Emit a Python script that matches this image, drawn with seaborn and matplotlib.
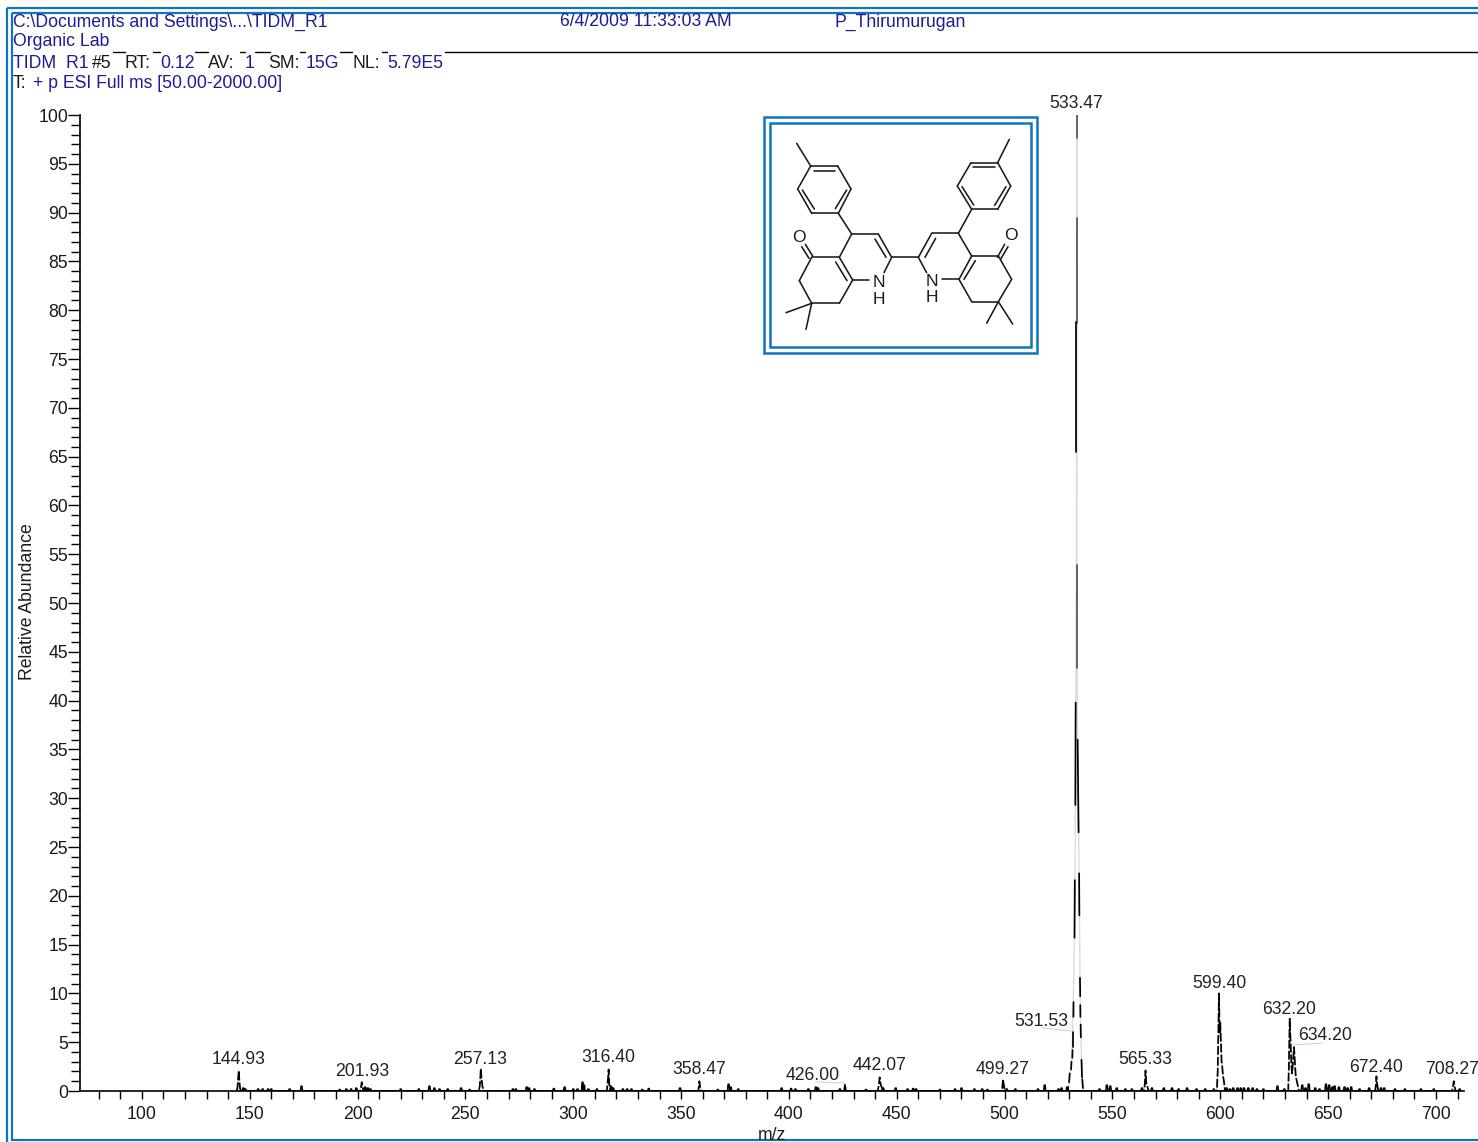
#!/usr/bin/env python3
import pandas as pd
import matplotlib
matplotlib.use('Agg')
import matplotlib.pyplot as plt
from matplotlib.patches import Rectangle
import seaborn as sns

# profile of the labelled peaks
profile_mz = [143.9, 144.3, 144.6, 144.93, 145.2, 145.5, 145.8,
              201.2, 201.6, 201.93, 202.3, 202.7,
              256.2, 256.6, 256.9, 257.13, 257.5, 257.9, 258.4,
              315.6, 315.9, 316.1, 316.4, 316.7, 317.1,
              358.0, 358.47, 358.9, 359.4,
              425.6, 426.0, 426.4,
              441.2, 441.6, 442.07, 442.5, 443.0, 443.6,
              498.8, 499.27, 499.7, 500.2,
              564.7, 565.0, 565.33, 565.7, 566.1, 566.8,
              598.4, 598.8, 599.1, 599.4, 599.7, 600.0, 600.3, 600.6, 600.9,
              601.3, 601.7, 602.2,
              631.5, 631.8, 632.0, 632.2, 632.6, 633.0, 633.3, 633.7, 634.2,
              634.7, 635.0, 635.5, 636.0, 636.5,
              671.8, 672.1, 672.4, 672.8, 673.3,
              707.5, 707.9, 708.27, 708.7, 709.2]
profile_int = [0, 0.3, 1.2, 2.1, 1.0, 0.3, 0,
               0, 0.4, 0.9, 0.5, 0,
               0, 0.4, 1.2, 2.3, 1.2, 0.5, 0,
               0, 0.8, 1.2, 2.2, 0.7, 0,
               0, 1.0, 0.3, 0,
               0, 0.7, 0,
               0, 0.5, 1.4, 0.7, 0.4, 0,
               0, 1.2, 0.5, 0,
               0, 0.7, 2.1, 0.8, 0.5, 0,
               0, 2.0, 6.0, 10.0, 6.0, 7.0, 5.0, 3.0, 2.5,
               1.5, 1.0, 0,
               0, 2.5, 5.0, 7.4, 5.0, 2.5, 1.8, 3.0, 4.5,
               2.5, 1.5, 1.0, 0.5, 0,
               0, 0.5, 1.5, 0.6, 0,
               0, 0.5, 1.0, 0.4, 0]

# base peak, pale outline
base_mz = [529.4, 530.2, 531.0, 531.53, 532.4, 532.8, 533.0, 533.3, 533.47,
           533.5, 533.7, 534.3, 534.7, 535.1, 535.4, 535.9, 536.3, 536.8]
base_int = [0, 1.4, 2.6, 6.0, 15.7, 29.0, 40.0, 55.0, 100.0,
            55.0, 40.0, 26.5, 18.0, 8.0, 5.5, 1.4, 1.0, 0]

# dark pieces of the base peak: top and bottom end of each piece
piece_mz_top = [533.47, 533.45, 533.2, 533.4, 532.95, 532.55, 531.95, 531.5, 531.5, 531.0, 530.2, 529.5,
                533.85, 534.55, 534.95, 535.1, 535.25, 535.65, 536.0]
piece_int_top = [100.0, 89.4, 78.8, 53.9, 39.8, 21.6, 9.1, 6.0, 4.2, 3.0, 1.8, 0.4,
                 36.0, 22.3, 11.6, 8.8, 6.8, 3.2, 1.2]
piece_mz_bot = [533.47, 533.45, 533.2, 533.4, 532.8, 532.4, 531.9, 531.5, 531.4, 530.8, 529.9, 529.4,
                534.3, 534.65, 535.05, 535.15, 535.35, 535.9, 536.3]
piece_int_bot = [97.6, 78.7, 65.5, 43.3, 29.3, 15.7, 7.6, 4.5, 3.4, 2.2, 0.9, 0.1,
                 26.5, 18.0, 9.7, 7.6, 5.5, 1.4, 0.3]
piece_black = [False, False, True, False, True, True, True, True, True, True, True, True,
               True, True, True, True, True, True, True]

# the small unlabelled bumps along the baseline
noise_mz = [147, 148, 153.9, 156, 158.5, 160, 168.5, 174, 191.7, 194.8, 197,
            199.4, 203.5, 204.8, 206, 220, 228.4, 233.3, 235.6, 238, 241.8,
            248, 251.9, 272, 273.4, 278.4, 279.5, 282, 291, 296, 300, 302,
            304.3, 305, 307, 311, 317.5, 318.5, 323, 325, 327, 332, 335,
            349.5, 367, 372, 373, 376.5, 396.6, 401, 403, 409, 412.5, 413.5,
            423.6, 435.7, 443.7, 449.5, 455, 457.6, 459, 470, 477, 480, 486,
            489.6, 492, 501, 505, 515.5, 518.6, 525, 526.4, 529, 544, 547.4,
            549, 552, 556, 559, 563.7, 568.3, 573.8, 577.6, 580.7, 584.6, 589,
            593, 597, 603, 604.5, 606, 608, 609.5, 611, 613, 615, 617, 620, 626.5, 629.7,
            638, 639.5, 641, 644, 646, 649, 650.5, 652, 653, 655, 657.6, 659, 660.7, 664.6, 669,
            674.5, 676, 681, 685.6, 693, 699, 711]
noise_int = [0.3, 0.2, 0.2, 0.2, 0.2, 0.2, 0.2, 0.5, 0.15, 0.2, 0.2,
             0.3, 0.4, 0.3, 0.2, 0.2, 0.2, 0.5, 0.3, 0.2, 0.2,
             0.3, 0.15, 0.2, 0.2, 0.4, 0.3, 0.2, 0.25, 0.4, 0.2, 0.2,
             0.9, 0.6, 0.2, 0.2, 0.5, 0.3, 0.2, 0.2, 0.2, 0.15, 0.25,
             0.3, 0.15, 0.7, 0.4, 0.2, 0.3, 0.25, 0.2, 0.2, 0.4, 0.3,
             0.2, 0.15, 0.3, 0.3, 0.2, 0.25, 0.2, 0.15, 0.2, 0.3, 0.2,
             0.2, 0.15, 0.2, 0.2, 0.2, 0.6, 0.2, 0.3, 0.4, 0.2, 0.6,
             0.5, 0.3, 0.2, 0.2, 0.3, 0.3, 0.3, 0.3, 0.2, 0.3, 0.2,
             0.2, 0.2, 0.3, 0.2, 0.3, 0.3, 0.3, 0.3, 0.3, 0.3, 0.2, 0.2, 0.5, 0.2,
             0.6, 0.3, 0.7, 0.3, 0.2, 0.7, 0.6, 0.4, 0.5, 0.4, 0.4, 0.3, 0.4, 0.2, 0.3,
             0.3, 0.3, 0.2, 0.2, 0.2, 0.2, 0.2]

peak_labels = ["144.93", "201.93", "257.13", "316.40", "358.47", "426.00",
               "442.07", "499.27", "531.53", "533.47", "565.33", "599.40",
               "632.20", "634.20", "672.40", "708.27"]
label_px = [(239, 1059), (362, 1071), (480, 1059), (608, 1058), (699, 1070),
            (813, 1075), (880, 1066), (1003, 1070), (1041, 1021), (1076, 104),
            (1145, 1060), (1219, 983), (1289, 1009), (1325, 1036), (1376, 1067),
            (1452, 1069)]
leaders_px = [((1042, 1028), (1072, 1031)), ((1293, 1045), (1322, 1043)),
              ((815, 1082), (845, 1083))]

header = [(13, 22, "C:\\Documents and Settings\\...\\TIDM_R1", "blue"),
          (560, 22, "6/4/2009 11:33:03 AM", "blue"),
          (834, 22, "P_Thirumurugan", "blue"),
          (13, 42, "Organic Lab", "blue"),
          (13, 63, "TIDM  R1", "blue"), (92, 63, "#5", "black"),
          (125, 63, "RT:", "black"), (160, 63, "0.12", "blue"),
          (208, 63, "AV:", "black"), (245, 63, "1", "blue"),
          (268, 63, "SM:", "black"), (306, 63, "15G", "blue"),
          (353, 63, "NL:", "black"), (387, 63, "5.79E5", "blue"),
          (13, 84, "T:", "black"), (33, 84, "+ p ESI Full ms [50.00-2000.00]", "blue")]
overline_px = [(113, 125), (153, 160), (195, 208), (240, 245), (255, 270),
               (300, 305), (340, 352), (382, 387), (445, 1478)]

# structure inset, coordinates measured in a 855x750 crop of the picture
bonds = [
    ((110, 100), (152, 168)), ((152, 168), (233, 168)), ((233, 168), (273, 237)),
    ((273, 237), (235, 310)), ((235, 310), (155, 310)), ((155, 310), (113, 237)),
    ((113, 237), (152, 168)), ((163, 183), (225, 183)), ((260, 240), (226, 296)),
    ((127, 240), (163, 297)), ((235, 310), (275, 372)), ((275, 372), (355, 372)),
    ((355, 372), (395, 442)), ((345, 387), (378, 442)), ((275, 372), (238, 442)),
    ((238, 442), (155, 442)), ((238, 442), (278, 510)), ((227, 456), (261, 512)),
    ((278, 510), (328, 510)), ((395, 442), (372, 488)), ((278, 510), (238, 580)),
    ((238, 580), (155, 580)), ((155, 580), (118, 512)), ((118, 512), (155, 442)),
    ((158, 438), (136, 403)), ((147, 445), (125, 410)), ((155, 580), (78, 608)),
    ((155, 580), (138, 658)), ((395, 442), (475, 442)),
    ((475, 442), (515, 370)), ((495, 442), (527, 385)), ((515, 370), (595, 370)),
    ((595, 370), (635, 298)), ((635, 298), (713, 298)), ((713, 298), (752, 228)),
    ((752, 228), (713, 158)), ((713, 158), (633, 158)), ((633, 158), (592, 228)),
    ((592, 228), (635, 298)), ((713, 158), (748, 88)), ((640, 172), (705, 172)),
    ((738, 230), (704, 286)), ((606, 230), (641, 285)), ((595, 370), (635, 438)),
    ((635, 438), (715, 438)), ((712, 442), (734, 403)), ((722, 447), (744, 410)),
    ((715, 438), (755, 508)), ((755, 508), (715, 575)), ((715, 575), (635, 575)),
    ((635, 575), (597, 508)), ((597, 508), (635, 438)), ((612, 508), (646, 452)),
    ((597, 508), (545, 508)), ((475, 442), (500, 488)), ((715, 575), (680, 640)),
    ((715, 575), (758, 642)),
]
atoms = [(117, 381, "O"), (358, 518, "N"), (358, 568, "H"), (752, 376, "O"),
         (515, 514, "N"), (515, 564, "H")]

BLUE = "#1c1c96"
FRAME = "#0f75bd"
TEXT = "#1a1a1a"
FS = 12.7

sns.set_theme(style="ticks")
plt.rcParams['font.family'] = ['Liberation Sans', 'DejaVu Sans']

fig = plt.figure(figsize=(14.78, 11.42), dpi=100)
W, H = 1478.0, 1142.0
ax = fig.add_axes([80 / W, 1 - 1091 / H, (1464 - 80) / W, (1091 - 115) / H])

spectrum = pd.DataFrame({"mz": profile_mz, "abundance": profile_int})
base = pd.DataFrame({"mz": base_mz, "abundance": base_int})
for frame in (spectrum, base):
    sns.lineplot(data=frame, x="mz", y="abundance", ax=ax, estimator=None, sort=False,
                 color="#dcdcdc", linewidth=1.0)
sns.lineplot(data=spectrum, x="mz", y="abundance", ax=ax, estimator=None, sort=False,
             color="black", linewidth=1.25, linestyle=(0, (5, 1.3)))

# the base peak comes out in broken dark pieces
for i in range(len(piece_black)):
    piece = pd.DataFrame({"mz": [piece_mz_top[i], piece_mz_bot[i]],
                          "abundance": [piece_int_top[i], piece_int_bot[i]]})
    sns.lineplot(data=piece, x="mz", y="abundance", ax=ax, estimator=None, sort=False,
                 color="black" if piece_black[i] else "#555555", linewidth=1.25)

# baseline bumps as narrow triangles
noise_x, noise_y = [], []
for m, v in zip(noise_mz, noise_int):
    noise_x += [m - 0.5, m - 0.2, m + 0.2, m + 0.5]
    noise_y += [0, v, v, 0]
noise = pd.DataFrame({"mz": noise_x, "abundance": noise_y})
sns.lineplot(data=noise, x="mz", y="abundance", ax=ax, estimator=None, sort=False,
             color="black", linewidth=1.1)

ax.set_xlim(71.3, 713)
ax.set_ylim(0, 100)
ax.set_xticks(range(100, 701, 50))
ax.set_xticks(range(80, 711, 10), minor=True)
ax.set_yticks(range(0, 101, 5))
ax.set_yticks(range(0, 101, 1), minor=True)
ax.tick_params(axis="x", which="both", length=6, width=1.0, color="black",
               labelsize=FS, pad=4.5, labelcolor=TEXT)
ax.tick_params(axis="y", which="major", length=8.5, width=1.0, color="black",
               labelsize=FS, pad=0, labelcolor=TEXT)
ax.tick_params(axis="y", which="minor", length=6.5, width=1.0, color="black")
ax.set_xlabel("")
ax.set_ylabel("")
sns.despine(ax=ax)
for side in ("left", "bottom"):
    ax.spines[side].set_linewidth(1.2)
    ax.spines[side].set_color("black")

# overlay in picture pixels for the annotations, header and frames
over = fig.add_axes([0, 0, 1, 1], facecolor="none")
over.set_xlim(0, W)
over.set_ylim(H, 0)
over.axis("off")

for txt, (px, py) in zip(peak_labels, label_px):
    over.text(px, py, txt, ha="center", va="center", fontsize=FS, color="#222222")
for (a, b) in leaders_px:
    over.plot([a[0], b[0]], [a[1], b[1]], color="#bfe3c4", lw=0.8)

for px, py, txt, col in header:
    over.text(px, py, txt, ha="left", va="center", fontsize=FS,
              color=BLUE if col == "blue" else TEXT)
for x0, x1 in overline_px:
    over.plot([x0, x1], [52, 52], color="black", lw=1.0)

over.text(28, 602, "Relative Abundance", rotation=90, ha="center", va="center",
          fontsize=FS, color=TEXT)
over.text(772, 1136, "m/z", ha="center", va="center", fontsize=FS, color=TEXT)

# outer double frame, right side runs off the picture
over.add_patch(Rectangle((6.5, 7.5), 1490, 1160, fill=False, ec=FRAME, lw=1.6))
over.add_patch(Rectangle((12, 13), 1490, 1127, fill=False, ec=FRAME, lw=1.6))

# structure inset
ins = fig.add_axes([760 / W, 1 - 360 / H, 285 / W, 250 / H], facecolor="none")
ins.set_xlim(0, 855)
ins.set_ylim(750, 0)
ins.axis("off")
ins.add_patch(Rectangle((12, 22), 818, 708, fill=True, fc="white", ec=FRAME, lw=1.8))
ins.add_patch(Rectangle((30, 40), 782, 672, fill=False, ec=FRAME, lw=1.8))
for a, b in bonds:
    ins.plot([a[0], b[0]], [a[1], b[1]], color="#1a1a1a", lw=1.15, solid_capstyle="round")
for ax_, ay_, sym in atoms:
    ins.text(ax_, ay_, sym, ha="center", va="center", fontsize=12.5, color="#1a1a1a")

plt.savefig("out.png", dpi=100)
plt.close()
